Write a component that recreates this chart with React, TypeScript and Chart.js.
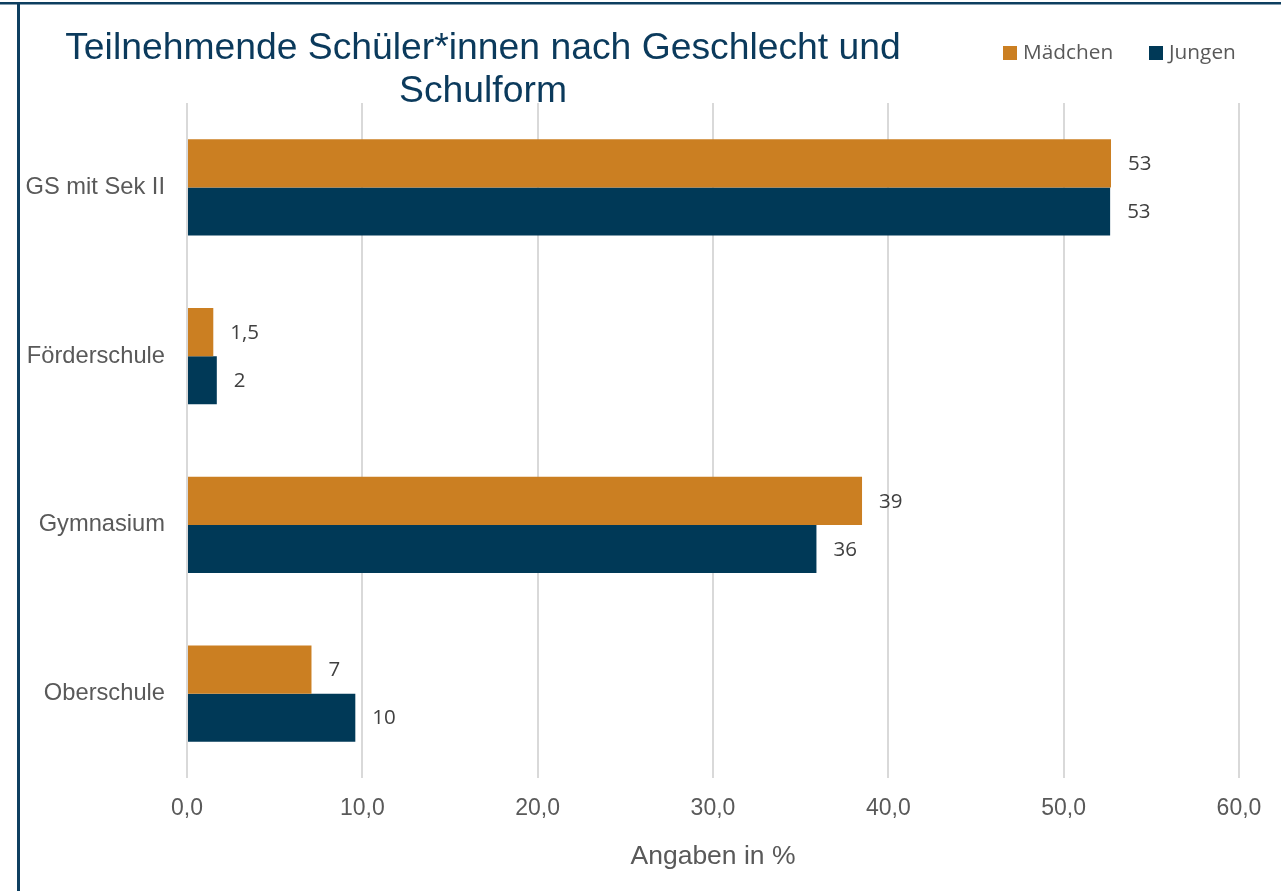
import React, { useEffect, useRef } from "react";
import { Chart, registerables } from "chart.js";

Chart.register(...registerables);

const categories = ["GS mit Sek II", "Förderschule", "Gymnasium", "Oberschule"];
const seriesNames = ["Mädchen", "Jungen"];
const maedchen = [52.7, 1.5, 38.5, 7.1];
const jungen = [52.65, 1.7, 35.9, 9.6];
const maedchenLabels = ["53", "1,5", "39", "7"];
const jungenLabels = ["53", "2", "36", "10"];
const titleLines = ["Teilnehmende Schüler*innen nach Geschlecht und", "Schulform"];
const xTitle = "Angaben in %";
const xMin = 0;
const xMax = 60;
const xStep = 10;

const ORANGE = "#CB7F22";
const BLUE = "#003957";
const FRAME = "#0E3F60";
const TITLE_COLOR = "#0B3A5C";

export default function App() {
  const ref = useRef<HTMLCanvasElement | null>(null);

  useEffect(() => {
    if (!ref.current) return;
    const labelSets = [maedchenLabels, jungenLabels];

    const framePlugin = {
      id: "frame",
      beforeDraw(chart: any) {
        const ctx = chart.ctx;
        ctx.save();
        ctx.fillStyle = "#ffffff";
        ctx.fillRect(0, 0, chart.width, chart.height);
        ctx.fillStyle = FRAME;
        ctx.fillRect(0, 2, chart.width, 2.5);
        ctx.fillRect(17, 2, 3, chart.height);
        ctx.restore();
      },
    };

    const titlePlugin = {
      id: "customTitle",
      afterDraw(chart: any) {
        const ctx = chart.ctx;
        ctx.save();
        ctx.fillStyle = TITLE_COLOR;
        ctx.font = "37.3px 'Liberation Sans', Arial, sans-serif";
        ctx.textAlign = "center";
        ctx.textBaseline = "alphabetic";
        ctx.fillText(titleLines[0], 483, 59);
        ctx.fillText(titleLines[1], 483, 102);
        ctx.restore();
      },
    };

    const legendPlugin = {
      id: "customLegend",
      afterDraw(chart: any) {
        const ctx = chart.ctx;
        ctx.save();
        ctx.font = "20.8px 'Open Sans', sans-serif";
        ctx.textBaseline = "middle";
        ctx.textAlign = "left";
        const items = [
          { x: 1003, color: ORANGE, text: seriesNames[0] },
          { x: 1149, color: BLUE, text: seriesNames[1] },
        ];
        items.forEach((it) => {
          ctx.fillStyle = it.color;
          ctx.fillRect(it.x, 46, 14, 14);
          ctx.fillStyle = "#595959";
          ctx.fillText(it.text, it.x + 20, 53);
        });
        ctx.restore();
      },
    };

    const dataLabelPlugin = {
      id: "dataLabels",
      afterDatasetsDraw(chart: any) {
        const ctx = chart.ctx;
        ctx.save();
        ctx.font = "20.5px 'Open Sans', sans-serif";
        ctx.fillStyle = "#404040";
        ctx.textBaseline = "middle";
        ctx.textAlign = "left";
        chart.data.datasets.forEach((ds: any, di: number) => {
          const meta = chart.getDatasetMeta(di);
          meta.data.forEach((bar: any, i: number) => {
            ctx.fillText(labelSets[di][i], bar.x + 17, bar.y + 1);
          });
        });
        ctx.restore();
      },
    };

    const chart = new Chart(ref.current, {
      type: "bar",
      data: {
        labels: categories,
        datasets: [
          {
            label: seriesNames[0],
            data: maedchen,
            backgroundColor: ORANGE,
            barPercentage: 1,
            categoryPercentage: 0.569,
          },
          {
            label: seriesNames[1],
            data: jungen,
            backgroundColor: BLUE,
            barPercentage: 1,
            categoryPercentage: 0.569,
          },
        ],
      },
      options: {
        indexAxis: "y",
        responsive: false,
        animation: false,
        layout: { padding: { left: 0, right: 42, top: 103, bottom: 0 } },
        plugins: {
          legend: { display: false },
          title: { display: false },
          tooltip: { enabled: false },
        },
        scales: {
          x: {
            min: xMin,
            max: xMax,
            ticks: {
              stepSize: xStep,
              color: "#595959",
              padding: 17,
              font: { family: "'Liberation Sans', Arial, sans-serif", size: 23 },
              callback: (v: any) => Number(v).toFixed(1).replace(".", ","),
            },
            grid: { color: "#D9D9D9", lineWidth: 2, drawTicks: false },
            border: { display: false },
            title: {
              display: true,
              text: xTitle,
              color: "#595959",
              font: { family: "'Liberation Sans', Arial, sans-serif", size: 26.5 },
              padding: { top: 0, bottom: 18 },
            },
            afterFit: (s: any) => {
              s.height = 113;
            },
          },
          y: {
            ticks: {
              color: "#595959",
              padding: 22,
              font: { family: "'Liberation Sans', Arial, sans-serif", size: 23.7 },
            },
            grid: { display: false, drawTicks: false },
            border: { display: false },
            afterFit: (s: any) => {
              s.width = 187;
            },
          },
        },
      },
      plugins: [framePlugin, dataLabelPlugin, titlePlugin, legendPlugin],
    } as any);

    return () => chart.destroy();
  }, []);

  return (
    <div style={{ position: "fixed", left: 0, top: 0, width: 1281, height: 891, background: "#fff" }}>
      <canvas ref={ref} width={1281} height={891} style={{ display: "block", width: 1281, height: 891 }} />
    </div>
  );
}
